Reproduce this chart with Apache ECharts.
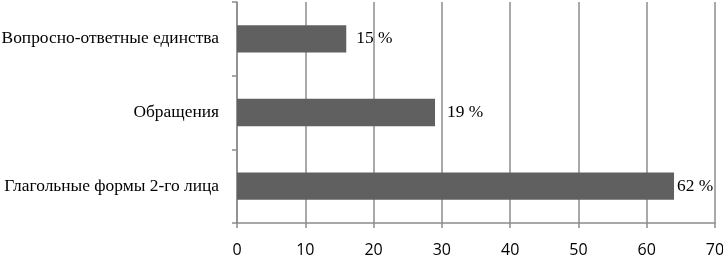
<!DOCTYPE html>
<html>
<head>
<meta charset="utf-8">
<script src="https://cdn.jsdelivr.net/npm/echarts@6/dist/echarts.min.js"></script>
<style>html,body{margin:0;padding:0;background:#fff}#c{width:723px;height:257px}</style>
</head>
<body>
<div id="c"></div>
<script>
var categories = ["Вопросно-ответные единства", "Обращения", "Глагольные формы 2-го лица"];
var values = [16, 29, 64];
var valueLabels = ["15 %", "19 %", "62 %"];
var xTicks = [0, 10, 20, 30, 40, 50, 60, 70];

var labelDistances = [10, 12, 3];
var chart = echarts.init(document.getElementById('c'));
chart.setOption({
  animation: false,
  grid: {left: 237, right: 8, top: 2, bottom: 34, containLabel: false, outerBoundsMode: 'none'},
  xAxis: {
    type: 'value', min: xTicks[0], max: xTicks[xTicks.length - 1], interval: 10,
    axisLine: {show: true, lineStyle: {color: '#8c8c8c', width: 1.5}},
    axisTick: {show: true, length: 5, lineStyle: {color: '#8c8c8c', width: 1.5}},
    splitLine: {show: true, lineStyle: {color: '#8c8c8c', width: 1.5}},
    axisLabel: {color: '#000', fontFamily: 'Open Sans', fontSize: 16, margin: 19}
  },
  yAxis: {
    type: 'category', data: categories, inverse: true,
    axisLine: {show: true, lineStyle: {color: '#8c8c8c', width: 1.5}},
    axisTick: {show: true, length: 5, lineStyle: {color: '#8c8c8c', width: 1.5}},
    axisLabel: {color: '#000', fontFamily: 'Liberation Serif', fontSize: 17.4, margin: 18}
  },
  series: [{
    type: 'bar',
    barCategoryGap: '63%',
    itemStyle: {color: '#606060'},
    data: values.map(function (v, i) {
      return {value: v, label: {show: true, position: 'right', distance: labelDistances[i],
        formatter: valueLabels[i], color: '#000', fontFamily: 'Liberation Serif', fontSize: 17.4}};
    })
  }]
});
</script>
</body>
</html>
